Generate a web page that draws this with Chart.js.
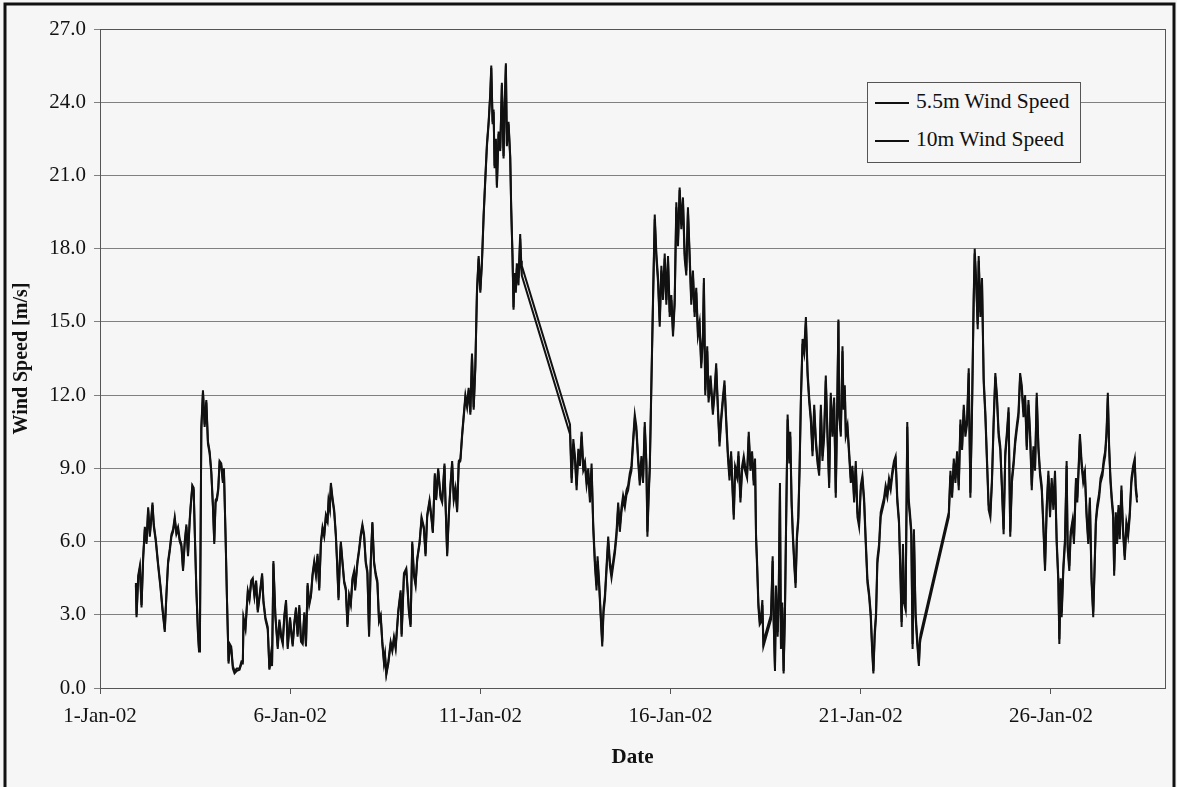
<!DOCTYPE html>
<html>
<head>
<meta charset="utf-8">
<script src="https://cdn.jsdelivr.net/npm/chart.js@4"></script>
<style>
  html, body { margin: 0; padding: 0; background: #f6f6f6; }
  #wrap { position: relative; width: 1177px; height: 787px; }
  #legenda {
    position: absolute; left: 867px; top: 82px; width: 214px; height: 81px;
    border: 1px solid #555; background: #f6f6f6; box-sizing: border-box;
    font-family: 'Liberation Serif', serif; font-size: 21.5px; color: #111;
  }
  .item { position: absolute; left: 7px; height: 24px; line-height: 24px; white-space: nowrap; }
  .item span.linha { display: inline-block; width: 34px; height: 0; border-top: 2px solid #111; vertical-align: middle; margin-right: 7px; }
</style>
</head>
<body>
<div id="wrap">
  <canvas id="grafico" width="1177" height="787"></canvas>
  <div id="legenda">
    <div class="item" style="top:6px"><span class="linha"></span>5.5m Wind Speed</div>
    <div class="item" style="top:44px"><span class="linha"></span>10m Wind Speed</div>
  </div>
</div>
<script>
// dias de janeiro/2002 (fração do dia)
const dias = [
  1.943,1.961,2.004,2.048,2.092,2.135,2.179,2.223,2.266,2.310,2.354,2.380,2.415,2.467,2.528,2.590,2.642,2.703,2.747,2.790,
  2.834,2.878,2.921,2.965,3.009,3.052,3.096,3.140,3.183,3.227,3.271,3.314,3.358,3.384,3.428,3.463,3.489,3.533,3.576,3.603,
  3.629,3.664,3.707,3.751,3.795,3.838,3.882,3.926,3.969,4.004,4.039,4.074,4.109,4.144,4.188,4.231,4.258,4.301,4.336,4.380,
  4.415,4.450,4.493,4.537,4.598,4.668,4.720,4.755,4.773,4.825,4.886,4.930,4.974,5.017,5.061,5.105,5.148,5.210,5.262,5.297,
  5.349,5.410,5.454,5.498,5.524,5.559,5.611,5.673,5.716,5.760,5.804,5.847,5.891,5.935,5.996,6.031,6.066,6.109,6.153,6.196,
  6.240,6.284,6.327,6.371,6.415,6.458,6.502,6.546,6.589,6.633,6.677,6.720,6.764,6.808,6.851,6.895,6.939,6.982,7.009,7.043,
  7.070,7.113,7.157,7.201,7.236,7.271,7.306,7.332,7.375,7.419,7.463,7.506,7.550,7.594,7.637,7.681,7.707,7.768,7.812,7.856,
  7.899,7.943,7.987,8.030,8.074,8.118,8.161,8.205,8.249,8.292,8.336,8.380,8.423,8.467,8.493,8.528,8.581,8.642,8.685,8.729,
  8.773,8.843,8.904,8.930,8.991,9.052,9.087,9.122,9.166,9.209,9.253,9.297,9.340,9.402,9.454,9.515,9.559,9.602,9.664,9.716,
  9.751,9.803,9.838,9.891,9.952,9.996,10.057,10.083,10.127,10.170,10.214,10.258,10.301,10.345,10.389,10.432,10.476,10.520,10.563,10.607,
  10.651,10.693,10.737,10.780,10.824,10.868,10.911,10.955,10.999,11.042,11.086,11.130,11.173,11.217,11.261,11.287,11.322,11.348,11.374,11.409,
  11.435,11.479,11.523,11.566,11.610,11.636,11.671,11.697,11.741,11.785,11.811,11.846,11.872,11.898,11.933,11.959,12.003,12.047,12.073,12.090,
  13.357,13.400,13.444,13.488,13.531,13.575,13.619,13.662,13.706,13.750,13.793,13.837,13.881,13.924,13.968,14.012,14.055,14.081,14.125,14.169,
  14.204,14.239,14.274,14.317,14.361,14.405,14.448,14.492,14.536,14.579,14.623,14.667,14.710,14.754,14.798,14.841,14.885,14.929,14.972,15.016,
  15.060,15.103,15.147,15.191,15.234,15.278,15.322,15.365,15.392,15.427,15.454,15.497,15.541,15.585,15.628,15.672,15.716,15.759,15.803,15.847,
  15.890,15.934,15.978,16.021,16.065,16.109,16.152,16.196,16.240,16.283,16.327,16.371,16.414,16.458,16.502,16.545,16.589,16.633,16.676,16.720,
  16.764,16.807,16.851,16.877,16.912,16.965,17.000,17.052,17.113,17.157,17.200,17.244,17.288,17.331,17.375,17.419,17.462,17.506,17.550,17.593,
  17.637,17.663,17.698,17.751,17.786,17.838,17.882,17.925,17.960,18.013,18.056,18.100,18.144,18.187,18.222,18.248,18.275,18.310,18.344,18.379,
  18.414,18.441,18.641,18.685,18.711,18.746,18.772,18.816,18.842,18.877,18.903,18.938,18.973,19.008,19.034,19.078,19.122,19.148,19.183,19.218,
  19.253,19.288,19.323,19.358,19.393,19.427,19.471,19.515,19.559,19.602,19.646,19.690,19.733,19.777,19.821,19.864,19.908,19.952,19.995,20.039,
  20.082,20.126,20.170,20.213,20.257,20.301,20.344,20.388,20.414,20.434,20.477,20.521,20.547,20.582,20.608,20.652,20.696,20.739,20.783,20.827,
  20.870,20.914,20.958,21.001,21.045,21.089,21.132,21.176,21.220,21.263,21.298,21.333,21.368,21.403,21.438,21.482,21.525,21.569,21.613,21.656,
  21.700,21.744,21.787,21.831,21.875,21.918,21.962,22.006,22.049,22.076,22.111,22.137,22.180,22.224,22.259,22.294,22.329,22.364,22.399,22.442,
  22.486,22.530,22.556,22.573,23.316,23.359,23.403,23.447,23.490,23.534,23.578,23.621,23.665,23.709,23.752,23.796,23.840,23.883,23.927,23.971,
  23.997,24.041,24.076,24.102,24.146,24.189,24.233,24.277,24.320,24.364,24.408,24.451,24.495,24.539,24.582,24.626,24.670,24.713,24.757,24.801,
  24.844,24.888,24.931,24.975,25.019,25.062,25.106,25.148,25.191,25.235,25.279,25.322,25.366,25.410,25.453,25.497,25.541,25.584,25.628,25.672,
  25.715,25.759,25.803,25.846,25.890,25.934,25.977,26.021,26.065,26.108,26.152,26.196,26.222,26.257,26.283,26.327,26.370,26.414,26.440,26.484,
  26.519,26.571,26.606,26.659,26.694,26.737,26.763,26.807,26.851,26.894,26.938,26.982,27.025,27.069,27.113,27.139,27.183,27.218,27.270,27.305,
  27.357,27.392,27.427,27.462,27.497,27.532,27.567,27.602,27.637,27.663,27.707,27.742,27.777,27.811,27.855,27.899,27.942,27.986,28.030,28.073,
  28.117,28.161,28.204,28.231,28.266
];

// velocidade do vento a 5,5 m [m/s]
const vento55 = [
  4.2,2.9,4.5,4.9,3.3,5.3,6.5,5.9,7.3,6.2,7.0,7.5,6.6,6.0,5.0,4.1,3.2,2.3,3.8,5.1,
  5.6,6.2,6.4,6.9,6.3,6.5,6.0,5.8,4.8,5.9,6.6,5.4,6.8,7.4,8.25,8.1,6.5,4.0,2.2,1.5,
  2.4,10.6,12.1,10.7,11.7,10.0,9.6,8.8,7.4,5.9,7.6,7.7,8.1,9.2,9.1,8.4,8.9,6.2,3.75,1.0,
  1.7,1.6,0.8,0.6,0.7,0.75,1.0,1.0,2.8,2.4,3.9,3.6,4.3,4.4,3.75,4.3,3.1,3.9,4.6,3.5,
  2.8,2.4,0.75,1.3,0.9,5.1,2.9,1.6,2.7,2.1,1.8,2.9,3.5,1.6,2.8,2.2,1.7,2.6,3.2,2.1,
  3.3,1.9,1.8,3.0,1.7,4.2,3.4,3.75,4.6,5.1,4.6,5.4,4.0,5.9,6.5,6.2,7.0,6.8,7.6,7.3,
  8.3,7.7,7.2,6.2,5.0,3.6,5.2,5.9,5.1,4.3,4.0,2.5,3.75,3.4,4.4,4.7,4.0,5.1,5.6,6.2,
  6.6,6.2,5.1,4.7,2.1,5.1,6.75,5.1,4.6,4.3,2.7,2.9,1.8,1.0,1.3,0.55,1.0,1.8,1.5,2.0,
  1.6,3.1,3.9,2.1,4.6,4.8,4.0,3.1,2.5,5.9,4.6,4.2,5.25,5.9,6.9,6.5,5.4,7.0,7.6,6.9,
  6.35,8.7,7.7,8.9,7.8,7.6,9.1,7.6,5.4,7.0,8.25,9.2,7.7,8.1,7.2,9.2,9.3,10.3,11.1,11.9,
  11.5,12.2,11.2,13.6,11.4,13.1,16.2,17.6,16.2,17.4,19.3,20.8,22.2,23.1,24.3,25.4,23.1,23.6,21.3,22.4,
  20.5,22.7,22.0,24.7,21.7,23.6,25.5,22.2,23.1,21.7,19.6,17.6,15.5,16.9,16.2,17.2,16.5,18.4,17.2,16.9,
  10.4,8.4,10.0,9.3,8.1,9.6,9.1,10.3,8.9,9.1,8.3,8.8,7.6,9.0,6.5,5.0,4.0,5.2,4.1,2.75,
  1.7,3.1,3.6,4.8,6.0,5.0,4.5,5.0,5.5,6.2,7.4,6.4,7.2,7.7,7.4,7.9,8.1,8.6,8.9,10.0,
  11.0,10.5,9.3,8.3,9.3,8.4,10.7,9.1,6.2,7.9,8.9,12.4,15.9,19.2,17.6,16.6,14.8,17.1,15.9,17.6,
  15.7,17.5,15.2,15.9,14.4,15.7,19.7,18.1,20.4,18.8,19.9,17.6,16.9,19.5,17.6,15.7,16.9,15.2,16.2,14.4,
  14.8,13.1,14.25,16.6,12.0,13.8,11.7,12.6,11.2,12.0,13.1,11.4,9.9,10.9,11.7,12.4,10.9,9.5,8.5,9.5,
  7.8,6.9,8.9,8.6,9.5,7.6,8.9,9.3,8.9,8.6,10.3,8.9,9.5,8.3,9.2,6.1,5.0,3.3,2.6,2.7,
  3.4,1.7,2.8,5.2,2.7,0.7,4.0,2.1,3.5,8.2,1.6,3.3,0.6,3.0,6.1,11.0,9.2,10.3,7.5,6.1,
  5.0,4.1,6.1,6.8,8.9,11.7,14.1,13.7,15.0,12.8,11.7,10.9,9.5,11.4,10.0,9.2,8.7,11.4,9.3,10.3,
  12.6,10.3,8.2,11.9,10.3,11.7,7.8,12.0,15.0,11.1,10.3,13.8,11.4,12.2,10.3,10.6,9.5,8.4,8.9,7.6,
  9.1,7.0,6.6,8.1,8.5,7.6,5.9,4.3,3.75,2.9,1.6,0.6,2.1,2.9,5.1,5.7,7.0,7.3,7.6,8.1,
  7.8,8.4,8.1,8.7,9.1,9.3,7.6,6.75,4.3,2.5,5.7,3.5,3.2,10.7,7.6,7.0,6.3,1.6,6.3,2.9,
  1.8,0.9,1.8,2.0,7.0,8.7,7.8,9.2,8.4,9.5,8.1,10.8,9.75,11.4,10.3,10.8,12.9,7.8,11.4,15.9,
  17.8,16.3,14.7,17.5,15.2,16.6,12.5,11.1,9.2,7.3,7.0,8.4,10.8,12.75,11.8,10.3,9.75,8.1,6.3,9.5,
  10.3,11.3,6.2,8.4,9.1,10.0,10.6,11.1,12.75,12.2,11.1,11.8,9.75,11.6,10.3,8.1,9.75,8.9,11.9,9.75,
  8.7,8.1,6.5,4.8,7.3,8.7,7.0,8.4,7.3,8.7,5.9,4.3,1.8,4.3,2.9,4.8,5.9,9.1,5.7,4.8,
  6.2,6.75,5.9,8.4,7.6,9.2,10.2,9.1,8.4,8.7,7.0,5.9,7.6,4.3,2.9,4.3,6.75,7.3,7.8,8.4,
  8.7,9.2,9.5,10.3,11.9,9.75,8.4,7.6,7.0,4.6,7.0,5.9,7.3,6.1,8.1,6.3,5.25,6.6,6.2,7.0,
  8.4,8.9,9.2,8.1,7.6
];

// velocidade do vento a 10 m [m/s]
const vento10 = [
  4.3,3.0,4.6,5.0,3.4,5.4,6.6,6.0,7.4,6.3,7.1,7.6,6.7,6.1,5.1,4.2,3.3,2.4,3.9,5.2,
  5.7,6.3,6.5,7.0,6.4,6.6,6.1,5.9,4.9,6.0,6.7,5.5,6.9,7.5,8.3,8.2,6.6,4.1,2.3,1.6,
  2.5,10.7,12.2,10.8,11.8,10.1,9.7,8.9,7.5,6.0,7.7,7.8,8.2,9.3,9.2,8.5,9.0,6.3,3.8,1.1,
  1.8,1.7,0.9,0.7,0.8,0.8,1.1,1.1,2.9,2.5,4.0,3.7,4.4,4.5,3.8,4.4,3.2,4.0,4.7,3.6,
  2.9,2.5,0.8,1.4,1.0,5.2,3.0,1.7,2.8,2.2,1.9,3.0,3.6,1.7,2.9,2.3,1.8,2.7,3.3,2.2,
  3.4,2.0,1.9,3.1,1.8,4.3,3.5,3.8,4.7,5.2,4.7,5.5,4.1,6.0,6.6,6.3,7.1,6.9,7.7,7.4,
  8.4,7.8,7.3,6.3,5.1,3.7,5.3,6.0,5.2,4.4,4.1,2.6,3.8,3.5,4.5,4.8,4.1,5.2,5.7,6.3,
  6.7,6.3,5.2,4.8,2.2,5.2,6.8,5.2,4.7,4.4,2.8,3.0,1.9,1.1,1.4,0.6,1.1,1.9,1.6,2.1,
  1.7,3.2,4.0,2.2,4.7,4.9,4.1,3.2,2.6,6.0,4.7,4.3,5.3,6.0,7.0,6.6,5.5,7.1,7.7,7.0,
  6.4,8.8,7.8,9.0,7.9,7.7,9.2,7.7,5.5,7.1,8.3,9.3,7.8,8.2,7.3,9.3,9.4,10.4,11.2,12.0,
  11.6,12.3,11.3,13.7,11.5,13.2,16.3,17.7,16.3,17.5,19.4,20.9,22.3,23.2,24.4,25.5,23.2,23.7,21.4,22.5,
  20.6,22.8,22.1,24.8,21.8,23.7,25.6,22.3,23.2,21.8,19.7,17.7,15.6,17.0,16.4,17.4,16.8,18.6,17.5,17.3,
  10.8,8.6,10.2,9.5,8.3,9.8,9.3,10.5,9.1,9.3,8.5,9.0,7.8,9.2,6.7,5.2,4.2,5.4,4.3,2.9,
  1.9,3.3,3.8,5.0,6.2,5.2,4.7,5.2,5.7,6.4,7.6,6.6,7.4,7.9,7.6,8.1,8.3,8.8,9.1,10.2,
  11.2,10.7,9.5,8.5,9.5,8.6,10.9,9.3,6.4,8.1,9.1,12.6,16.1,19.4,17.8,16.8,15.0,17.3,16.1,17.8,
  15.9,17.7,15.4,16.1,14.6,15.9,19.9,18.3,20.5,19.0,20.1,17.8,17.1,19.7,17.8,15.9,17.1,15.4,16.4,14.6,
  15.0,13.3,14.4,16.8,12.2,14.0,11.9,12.8,11.4,12.2,13.3,11.6,10.1,11.1,11.9,12.6,11.1,9.7,8.7,9.7,
  8.0,7.1,9.1,8.8,9.7,7.8,9.1,9.5,9.1,8.8,10.5,9.1,9.7,8.5,9.4,6.3,5.2,3.5,2.8,2.9,
  3.6,1.9,3.0,5.4,2.9,0.8,4.2,2.3,3.7,8.4,1.8,3.5,0.7,3.2,6.3,11.2,9.4,10.5,7.7,6.3,
  5.2,4.3,6.3,7.0,9.1,11.9,14.3,13.9,15.2,13.0,11.9,11.1,9.7,11.6,10.2,9.4,8.9,11.6,9.5,10.5,
  12.8,10.5,8.4,12.1,10.5,11.9,8.0,12.2,15.1,11.3,10.5,14.0,11.6,12.4,10.5,10.8,9.7,8.6,9.1,7.8,
  9.3,7.2,6.8,8.3,8.7,7.8,6.1,4.5,3.9,3.1,1.8,0.7,2.3,3.1,5.3,5.9,7.2,7.5,7.8,8.3,
  8.0,8.6,8.3,8.9,9.3,9.5,7.8,6.9,4.5,2.7,5.9,3.7,3.4,10.9,7.8,7.2,6.5,1.8,6.5,3.1,
  2.0,1.0,2.0,2.2,7.2,8.9,8.0,9.4,8.6,9.7,8.3,11.0,9.9,11.6,10.5,11.0,13.1,8.0,11.6,16.1,
  18.0,16.5,14.9,17.7,15.4,16.8,12.7,11.3,9.4,7.5,7.2,8.6,11.0,12.9,12.0,10.5,9.9,8.3,6.5,9.7,
  10.5,11.5,6.4,8.6,9.3,10.2,10.8,11.3,12.9,12.4,11.3,12.0,9.9,11.8,10.5,8.3,9.9,9.1,12.1,9.9,
  8.9,8.3,6.7,5.0,7.5,8.9,7.2,8.6,7.5,8.9,6.1,4.5,2.0,4.5,3.1,5.0,6.1,9.3,5.9,5.0,
  6.4,6.9,6.1,8.6,7.8,9.4,10.4,9.3,8.6,8.9,7.2,6.1,7.8,4.5,3.1,4.5,6.9,7.5,8.0,8.6,
  8.9,9.4,9.7,10.5,12.1,9.9,8.6,7.8,7.2,4.8,7.2,6.1,7.5,6.3,8.3,6.5,5.4,6.8,6.4,7.2,
  8.6,9.1,9.4,8.3,7.8
];

// rótulos do eixo X (dia de janeiro) e limites dos eixos
const ticksDias = [1, 6, 11, 16, 21, 26];
const diaMin = 1, diaMax = 29;
const ventoMin = 0, ventoMax = 27, passoVento = 3;

const fonteSerif = 'Liberation Serif';

// fundo, moldura externa e borda da área do gráfico
const molduraPlugin = {
  id: 'moldura',
  beforeDraw(chart) {
    const ctx = chart.ctx;
    ctx.save();
    ctx.fillStyle = '#f6f6f6';
    ctx.fillRect(0, 0, chart.width, chart.height);
    ctx.restore();
  },
  afterDraw(chart) {
    const { ctx, chartArea } = chart;
    ctx.save();
    ctx.strokeStyle = '#555';
    ctx.lineWidth = 1;
    ctx.strokeRect(chartArea.left + 0.5, chartArea.top + 0.5, chartArea.right - chartArea.left, chartArea.bottom - chartArea.top);
    ctx.strokeStyle = '#111';
    ctx.lineWidth = 3;
    ctx.strokeRect(5, 4, chart.width - 8, chart.height + 10);
    ctx.restore();
  }
};

function montarSerie(valores) {
  return dias.map((d, i) => ({ x: d, y: valores[i] }));
}

new Chart(document.getElementById('grafico').getContext('2d'), {
  type: 'line',
  data: {
    datasets: [
      { label: '5.5m Wind Speed', data: montarSerie(vento55), borderColor: '#111', borderWidth: 2, pointRadius: 0, tension: 0 },
      { label: '10m Wind Speed', data: montarSerie(vento10), borderColor: '#111', borderWidth: 2, pointRadius: 0, tension: 0 }
    ]
  },
  options: {
    responsive: false,
    animation: false,
    layout: { padding: { top: 29, right: 12, left: 0, bottom: 0 } },
    plugins: { legend: { display: false }, tooltip: { enabled: false } },
    scales: {
      x: {
        type: 'linear',
        min: diaMin,
        max: diaMax,
        afterBuildTicks: (eixo) => { eixo.ticks = ticksDias.map(v => ({ value: v })); },
        afterFit: (eixo) => { eixo.height = 99; },
        ticks: {
          callback: (v) => `${v}-Jan-02`,
          font: { family: fonteSerif, size: 21 },
          color: '#111',
          padding: 10,
          maxRotation: 0
        },
        grid: { drawOnChartArea: false, tickLength: 6, color: '#555' },
        border: { color: '#555' },
        title: {
          display: true,
          text: 'Date',
          font: { family: fonteSerif, size: 21, weight: 'bold' },
          color: '#111',
          padding: { top: 0, bottom: 17 }
        }
      },
      y: {
        min: ventoMin,
        max: ventoMax,
        afterFit: (eixo) => { eixo.width = 100; },
        ticks: {
          stepSize: passoVento,
          callback: (v) => v.toFixed(1),
          font: { family: fonteSerif, size: 21 },
          color: '#111',
          padding: 8
        },
        grid: { color: '#808080', tickLength: 6 },
        border: { color: '#555' },
        title: {
          display: true,
          text: 'Wind Speed [m/s]',
          font: { family: fonteSerif, size: 20, weight: 'bold' },
          color: '#111',
          padding: { top: 10, bottom: 0 }
        }
      }
    }
  },
  plugins: [molduraPlugin]
});
</script>
</body>
</html>
